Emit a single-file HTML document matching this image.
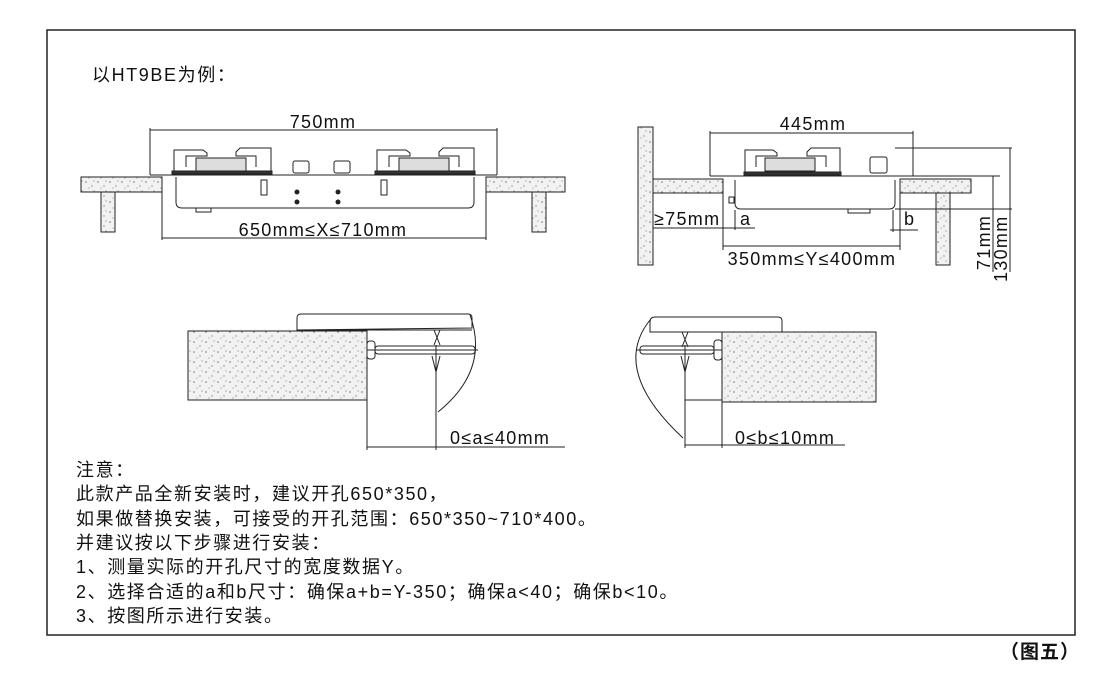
<!DOCTYPE html>
<html><head><meta charset="utf-8"><style>
body{margin:0;background:#fff;}
svg{display:block;}
text{font-family:"Liberation Sans","Noto Sans CJK SC",sans-serif;fill:#111;}
.d{font-size:18px;letter-spacing:1.3px;}
.n{font-size:18px;letter-spacing:1.6px;}
</style></head><body>
<svg width="1100" height="697" viewBox="0 0 1100 697" xmlns="http://www.w3.org/2000/svg">
<defs>
<pattern id="conc" width="12" height="10" patternUnits="userSpaceOnUse">
<rect width="12" height="10" fill="#f2f2f2"/>
<circle cx="2" cy="2" r="0.8" fill="#777"/><circle cx="8" cy="6" r="0.7" fill="#888"/><circle cx="5" cy="8" r="0.6" fill="#999"/><circle cx="10" cy="1" r="0.6" fill="#888"/>
</pattern>
</defs>
<rect x="47" y="30" width="1028" height="605" fill="none" stroke="#222" stroke-width="1.5"/>
<text x="92" y="81" class="n">以HT9BE为例：</text>
<text x="1000" y="658" font-size="19" font-weight="bold" letter-spacing="1">（图五）</text>

<g stroke="#222" stroke-width="1" fill="none">
<line x1="150" y1="130" x2="497" y2="130"/>
<line x1="150" y1="128" x2="150" y2="175"/><line x1="497" y1="128" x2="497" y2="175"/>
<rect x="81" y="177" width="81" height="15" fill="url(#conc)"/>
<rect x="486" y="177" width="79" height="15" fill="url(#conc)"/>
<rect x="101" y="192" width="14" height="40" fill="url(#conc)"/>
<rect x="532" y="192" width="14" height="40" fill="url(#conc)"/>
<line x1="150" y1="175" x2="497" y2="175"/>
<path d="M174 173 V150 H203 L207 153 V156 H186 V167"/><path d="M271 173 V148 H240 L236 152 V156 H256 V167"/>
<rect x="196" y="158" width="50" height="13" fill="#ddd"/>
<rect x="172" y="171" width="100" height="3" fill="#333"/>
<path d="M377 173 V150 H406 L410 153 V156 H389 V167"/><path d="M474 173 V148 H443 L439 152 V156 H459 V167"/>
<rect x="399" y="158" width="50" height="13" fill="#ddd"/>
<rect x="375" y="171" width="100" height="3" fill="#333"/>
<rect x="293" y="161" width="16" height="12" rx="2"/><rect x="334" y="161" width="16" height="12" rx="2"/>
<path d="M176 177 V202 Q176 208 182 208 H468 Q474 208 474 202 V177"/>
<rect x="261" y="180" width="6" height="15"/><rect x="381" y="180" width="6" height="15"/>
<rect x="196" y="208" width="15" height="4"/>
<line x1="162" y1="192" x2="162" y2="240"/><line x1="486" y1="192" x2="486" y2="240"/>
<line x1="162" y1="238" x2="486" y2="238"/>
</g>
<g fill="#222"><circle cx="297" cy="192" r="2.5"/><circle cx="297" cy="202" r="2.5"/><circle cx="338" cy="192" r="2.5"/><circle cx="338" cy="202" r="2.5"/></g>
<text x="323" y="128" class="d" text-anchor="middle">750mm</text>
<text x="323" y="236" class="d" text-anchor="middle">650mm≤X≤710mm</text>

<g stroke="#222" stroke-width="1" fill="none">
<rect x="638" y="127" width="15" height="138" fill="url(#conc)"/>
<rect x="653" y="179" width="70" height="14" fill="url(#conc)"/>
<rect x="900" y="179" width="71" height="14" fill="url(#conc)"/>
<rect x="936" y="193" width="14" height="72" fill="url(#conc)"/>
<line x1="710" y1="133" x2="913" y2="133"/>
<line x1="710" y1="131" x2="710" y2="176"/><line x1="913" y1="131" x2="913" y2="176"/>
<line x1="710" y1="176" x2="1000" y2="176"/>
<path d="M745 173 V150 H773 L777 153 V156 H756 V167"/><path d="M840 173 V148 H811 L807 152 V156 H826 V167"/>
<rect x="765" y="158" width="50" height="13" fill="#ddd"/>
<rect x="744" y="172" width="97" height="3" fill="#333"/>
<rect x="870" y="157" width="17" height="16" rx="2"/>
<path d="M735 180 V203 Q735 209 741 209 H889 Q895 209 895 203 V180"/>
<rect x="729" y="197" width="5" height="6"/>
<rect x="848" y="209" width="22" height="4"/>
<line x1="723" y1="193" x2="723" y2="250"/><line x1="900" y1="193" x2="900" y2="250"/>
<line x1="653" y1="228" x2="755" y2="228"/>
<line x1="735" y1="210" x2="735" y2="230"/>
<line x1="893" y1="210" x2="893" y2="232"/><line x1="890" y1="230" x2="918" y2="230"/>
<line x1="723" y1="246" x2="900" y2="246"/>
<line x1="895" y1="148" x2="1012" y2="148"/><line x1="895" y1="209" x2="1012" y2="209"/>
<line x1="993" y1="176" x2="993" y2="272"/><line x1="1010" y1="148" x2="1010" y2="272"/>
</g>
<text x="813" y="130" class="d" text-anchor="middle">445mm</text>
<text x="654" y="225" class="d">≥75mm</text>
<text x="740" y="225" class="d">a</text>
<text x="904" y="225" class="d">b</text>
<text x="812" y="265" class="d" text-anchor="middle">350mm≤Y≤400mm</text>
<text transform="translate(990,270) rotate(-90)" class="d">71mm</text>
<text transform="translate(1007,282) rotate(-90)" class="d">130mm</text>

<g stroke="#222" stroke-width="1" fill="none">
<rect x="188" y="331" width="179" height="69" fill="url(#conc)"/>
<path d="M297 330 V318 Q297 314 301 314 H468 Q472 314 472 318 V328 Z"/>
<line x1="297" y1="330" x2="472" y2="330"/>
<path d="M470 315 Q490 370 438 412"/>
<rect x="367" y="341" width="8" height="18" rx="3"/>
<rect x="375" y="346" width="100" height="8" rx="3"/>
<line x1="367" y1="350" x2="478" y2="350"/>
<path d="M434 330 L440 345 M440 330 L434 345 M432 356 L436 372 L440 356"/>
<line x1="367" y1="400" x2="367" y2="450"/><line x1="436" y1="345" x2="436" y2="450"/>
<line x1="367" y1="447" x2="565" y2="447"/>
</g>
<text x="450" y="444" class="d">0≤a≤40mm</text>

<g stroke="#222" stroke-width="1" fill="none">
<rect x="722" y="332" width="154" height="70" fill="url(#conc)"/>
<path d="M650 332 V322 Q650 317 655 317 H778 Q782 317 782 321 V332 Z"/>
<path d="M650 320 Q610 370 683 438"/>
<rect x="714" y="340" width="8" height="20" rx="3"/>
<rect x="640" y="346" width="74" height="8" rx="3"/>
<line x1="636" y1="350" x2="722" y2="350"/>
<path d="M682 332 L688 347 M688 332 L682 347 M681 356 L685 372 L689 356"/>
<line x1="685" y1="345" x2="685" y2="448"/><line x1="722" y1="402" x2="722" y2="448"/>
<line x1="685" y1="400" x2="722" y2="400"/>
<line x1="685" y1="445" x2="845" y2="445"/>
</g>
<text x="735" y="444" class="d">0≤b≤10mm</text>

<g class="n">
<text x="76" y="476">注意：</text>
<text x="76" y="500">此款产品全新安装时，建议开孔650*350，</text>
<text x="76" y="525">如果做替换安装，可接受的开孔范围：650*350~710*400。</text>
<text x="76" y="549">并建议按以下步骤进行安装：</text>
<text x="76" y="573">1、测量实际的开孔尺寸的宽度数据Y。</text>
<text x="76" y="598">2、选择合适的a和b尺寸：确保a+b=Y-350；确保a&lt;40；确保b&lt;10。</text>
<text x="76" y="622">3、按图所示进行安装。</text>
</g>
</svg>
</body></html>
